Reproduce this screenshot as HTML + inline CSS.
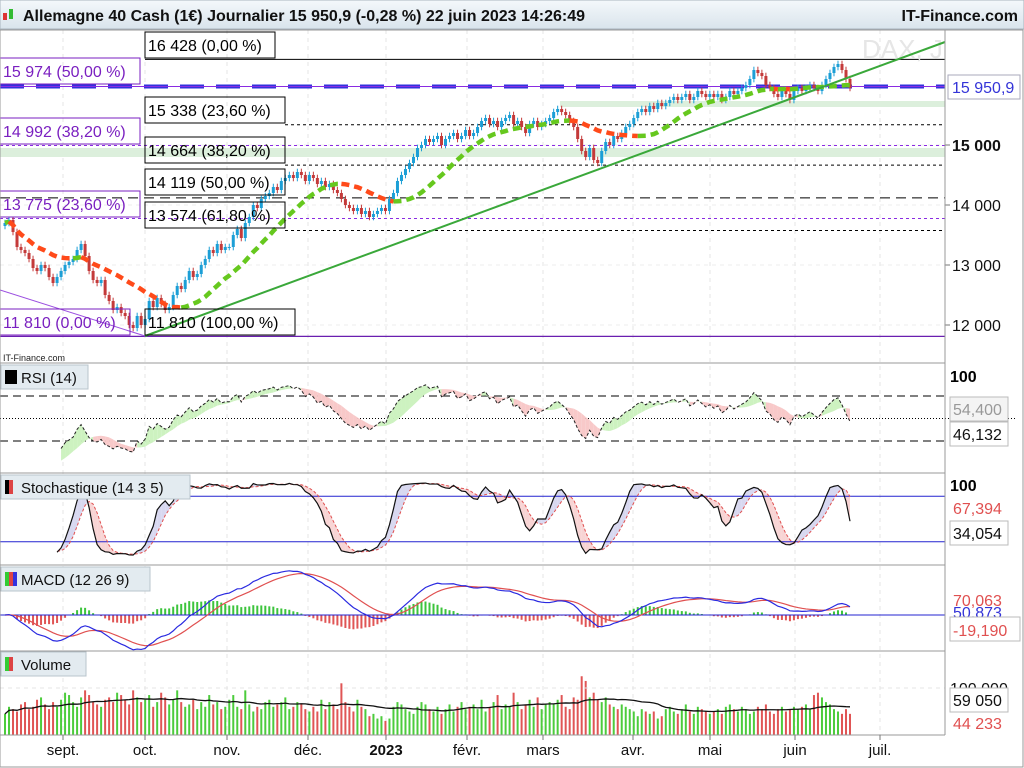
<!DOCTYPE html>
<html><head><meta charset="utf-8"><style>
body{margin:0;background:#fff;font-family:"Liberation Sans",sans-serif}
svg{display:block}
</style></head><body>
<svg id="c" width="1024" height="768" viewBox="0 0 1024 768" xmlns="http://www.w3.org/2000/svg">
<defs><linearGradient id="hg" x1="0" y1="0" x2="0" y2="1"><stop offset="0" stop-color="#f4f8fb"/><stop offset="1" stop-color="#d9e4ec"/></linearGradient></defs>
<rect x="0" y="0" width="1024" height="768" fill="#fff"/>
<g>
<rect x="0" y="0" width="1024" height="29" fill="url(#hg)" stroke="#a9b4bd"/>
<rect x="3" y="13" width="4" height="7" fill="#d33"/><rect x="9" y="9" width="4" height="10" fill="#3b3"/>
<text x="23" y="21" font-size="16" font-weight="bold" fill="#111">Allemagne 40 Cash (1€) Journalier 15 950,9 (-0,28 %) 22 juin 2023 14:26:49</text>
<text x="1018" y="21" font-size="16" font-weight="bold" fill="#111" text-anchor="end">IT-Finance.com</text>
</g>
<g id="grid"></g>
<g id="main"></g>
<g id="ind"></g>
<g id="axes"></g>
</svg>
<script>
const months=["sept.","oct.","nov.","déc.","2023","févr.","mars","avr.","mai","juin","juil."];
const monthX=[63,145,227,308,386,467,543,633,710,795,880];
const closes=[13700,13750,13550,13300,13250,13200,13100,12950,12900,13000,12950,12800,12700,12800,
12900,13000,13050,13100,13250,13350,13150,12900,12750,12700,12750,12500,12400,12250,12300,12200,12150,12000,11950,12150,12000,
12100,12400,12300,12450,12350,12250,12300,12500,12650,12600,12750,12900,12800,12850,13000,13100,13250,13200,13350,13250,13300,
13300,13500,13600,13450,13700,13800,14000,13950,14100,14150,14200,14300,14250,14400,14450,14500,14450,14550,14500,14400,14500,
14450,14350,14400,14300,14350,14250,14200,14100,14000,13950,13900,13950,13850,13900,13800,13850,13900,13950,13900,
14100,14200,14400,14500,14600,14700,14800,14950,15000,15100,15050,15100,15150,15000,15100,15150,15200,15100,15150,15250,15150,
15200,15300,15400,15450,15350,15400,15300,15400,15450,15500,15350,15400,15300,15200,15350,15400,15300,15350,15400,
15450,15550,15600,15550,15500,15400,15300,15100,14900,14800,14950,14750,14700,14900,15050,15000,15150,15100,15200,15300,15350,15450,
15550,15600,15550,15650,15600,15700,15650,15700,15750,15800,15750,15800,15850,15750,15800,15900,15850,15800,15850,
15800,15850,15750,15800,15900,15850,15900,15950,16000,16100,16250,16200,16150,16000,15950,15850,15800,15900,15850,15750,15900,
15950,15900,15950,16000,15950,15900,16000,16100,16200,16300,16350,16250,16100,15950];
const volumes=[45,60,55,50,65,70,55,60,75,80,65,55,70,60,
75,90,85,70,60,80,95,85,70,65,60,75,80,70,90,85,75,65,95,80,70,
75,85,60,70,90,80,65,75,95,70,60,65,75,55,70,60,85,65,70,55,60,
75,85,60,55,95,65,50,60,55,70,75,60,65,70,80,55,60,70,65,55,50,
60,50,75,55,70,65,55,110,70,60,50,75,60,55,40,45,35,40,30,
35,60,70,65,55,50,45,60,70,65,55,50,60,45,55,65,50,60,70,55,60,
65,55,75,50,60,70,85,55,65,60,90,70,55,65,75,60,80,55,65,
70,65,75,85,60,55,80,75,125,115,80,90,75,70,80,65,60,55,65,60,55,50,
40,55,50,45,50,35,40,55,60,50,45,55,65,50,45,60,55,50,45,
50,55,45,60,65,55,50,60,55,45,50,60,55,65,50,45,55,60,50,55,60,
55,60,65,55,85,90,80,70,65,55,50,45,55,45];
const priceTicks=[12000,13000,14000,15000];
const priceTickLabels=["12 000","13 000","14 000","15 000"];

const NS="http://www.w3.org/2000/svg";
function mk(parent,tag,attrs,text){const e=document.createElementNS(NS,tag);for(const k in attrs)e.setAttribute(k,attrs[k]);if(text!==undefined)e.textContent=text;parent.appendChild(e);return e;}
const G=document.getElementById('grid'),M=document.getElementById('main'),I=document.getElementById('ind'),A=document.getElementById('axes');
const N=Math.min(closes.length,volumes.length);
const x=i=>5+i*845/(N-1);
const py=p=>325-(p-12000)*0.06;

monthX.forEach(mx=>{const l=mk(G,'line',{x1:mx,y1:30,x2:mx,y2:735,stroke:'#e4e4e4','stroke-dasharray':'4 4'});

});
priceTicks.forEach((p,k)=>{const l=mk(G,'line',{x1:0,y1:py(p),x2:945,y2:py(p),stroke:'#ececec','stroke-dasharray':'4 4'});


const t=mk(A,'text',{x:952,y:py(p)+6,'font-size':16,'font-weight':p===15000?'bold':'normal',fill:'#111'},priceTickLabels[k]);


mk(A,'line',{x1:945,y1:py(p),x2:950,y2:py(p),stroke:'#777'});});

mk(M,'rect',{x:0,y:148,width:945,height:9,fill:'#dcefdc'});
mk(M,'rect',{x:560,y:101,width:385,height:6,fill:'#dcefdc'});
function hl(y,x1,col,dash,w,name){const l=mk(M,'line',{x1:x1,y1:y,x2:945,y2:y,stroke:col,'stroke-width':w||1,'stroke-dasharray':dash||'none'});

}
hl(py(16428),145,'#000','',1,'fib-16428');
hl(py(15338),285,'#000','3 3',1,'fib-15338');
hl(py(14992),0,'#8a2be2','3 3',1,'fib-14992');
hl(py(14664),285,'#000','3 3',1,'fib-14664');
hl(py(14119),0,'#000','10 6',1,'fib-14119');
hl(py(13775),0,'#8a2be2','3 3',1,'fib-13775');
hl(py(13574),285,'#000','3 3',1,'fib-13574');
hl(py(11810),0,'#6a1fb0','',1.2,'fib-11810');
hl(py(15974),0,'#3232dd','24 12',4,'last-price-line');
hl(py(15974),0,'#8a2be2','',1,'fib-15974');
mk(M,'line',{x1:0,y1:290,x2:145,y2:336,stroke:'#9b4ee0','stroke-width':1});
mk(M,'text',{x:862,y:58,'font-size':26,fill:'#e6e6e6'},'DAX, J');

for(let i=0;i<N;i++){const c=closes[i],o=i?closes[i-1]:13650;const up=c>=o;const col=up?'#1c9fd6':'#c43a3a';
const hi=Math.max(o,c)+55,lo=Math.min(o,c)-55;
mk(M,'line',{x1:x(i),y1:py(hi),x2:x(i),y2:py(lo),stroke:col,'stroke-width':1});
const b=mk(M,'rect',{x:x(i)-1.5,y:py(Math.max(o,c)),width:3,height:Math.max(1,Math.abs(py(o)-py(c))),fill:col});

}

const ma=closes.slice(0,N).map((c,i)=>{const s=Math.max(0,i-19);let t=0;for(let j=s;j<=i;j++)t+=closes[j];return t/(i-s+1);});
let seg=[],segCol=null;
function flush(){if(seg.length>1){const p=mk(M,'polyline',{points:seg.join(' '),fill:'none',stroke:segCol,'stroke-width':4.5,'stroke-dasharray':'8 5'});

}}
for(let i=0;i<N;i++){const col=(i>0&&ma[i]<ma[i-1])?'#ff4a1a':'#66c81e';
if(col!==segCol){const last=seg.length?seg[seg.length-1]:null;flush();seg=last?[last]:[];segCol=col;}
seg.push(x(i)+','+py(ma[i]));}
flush();
const tl=mk(M,'line',{x1:145,y1:336,x2:945,y2:42,stroke:'#3aa83a','stroke-width':2});



function box(xx,y,w,txt,col,name){const g=mk(M,'g',{});
mk(g,'rect',{x:xx,y:y,width:w,height:26,fill:'none',stroke:col});mk(g,'text',{x:xx+3,y:y+19,'font-size':16,fill:col},txt);}
box(145,32,130,'16 428 (0,00 %)','#000','fib-label-16428');
box(0,58,140,'15 974 (50,00 %)','#7a1fc0','fib-label-15974');
box(145,97,140,'15 338 (23,60 %)','#000','fib-label-15338');
box(0,118,140,'14 992 (38,20 %)','#7a1fc0','fib-label-14992');
box(145,137,140,'14 664 (38,20 %)','#000','fib-label-14664');
box(145,169,140,'14 119 (50,00 %)','#000','fib-label-14119');
box(0,191,140,'13 775 (23,60 %)','#7a1fc0','fib-label-13775');
box(145,202,140,'13 574 (61,80 %)','#000','fib-label-13574');
box(0,309,130,'11 810 (0,00 %)','#7a1fc0','fib-label-11810');
box(145,309,150,'11 810 (100,00 %)','#000','fib-label-11810b');
mk(A,'rect',{x:948,y:75,width:72,height:24,fill:'#fff',stroke:'#aab'});
mk(A,'text',{x:952,y:93,'font-size':16,fill:'#3434d8'},'15 950,9');
mk(M,'text',{x:3,y:361,'font-size':9,fill:'#222'},'IT-Finance.com');

[363,473,565,651,735].forEach(y=>mk(A,'line',{x1:0,y1:y,x2:945,y2:y,stroke:'#999'}));
mk(A,'line',{x1:945,y1:30,x2:945,y2:735,stroke:'#999'});
mk(A,'rect',{x:0,y:30,width:1023,height:737,fill:'none',stroke:'#999'});
function title(xx,y,w,txt,cols,name){const g=mk(A,'g',{});
mk(g,'rect',{x:xx,y:y,width:w,height:24,fill:'#e3ebf0',stroke:'#b8c4cc'});
cols.forEach((c,k)=>mk(g,'rect',{x:xx+4+k*4,y:y+5,width:cols.length>1?4:12,height:14,fill:c}));
mk(g,'text',{x:xx+20,y:y+18,'font-size':15,fill:'#111'},txt);}
title(1,365,87,'RSI (14)',['#000'],'rsi-title');
title(1,475,189,'Stochastique (14 3 5)',['#000','#d44'],'stoch-title');
title(1,567,149,'MACD (12 26 9)',['#3c3','#d44','#33d'],'macd-title');
title(1,652,85,'Volume',['#3c3','#d44'],'volume-title');

// RSI
const ry=v=>396+(70-v)*1.125;
const rsi=[];{let ag=0,al=0;for(let i=0;i<N;i++){const d=i?closes[i]-closes[i-1]:0;const g=Math.max(d,0),l=Math.max(-d,0);
if(i<=14){ag+=g/14;al+=l/14;}else{ag=(ag*13+g)/14;al=(al*13+l)/14;}rsi.push(al===0?100:100-100/(1+ag/al));}}
const sma=(arr,n)=>arr.map((v,i)=>{const s=Math.max(0,i-n+1);let t=0;for(let j=s;j<=i;j++)t+=arr[j];return t/(i-s+1);});
const rsiMa=sma(rsi,9);
[70,30].forEach(v=>mk(I,'line',{x1:0,y1:ry(v),x2:945,y2:ry(v),stroke:'#000','stroke-dasharray':'8 5'}));
mk(I,'line',{x1:0,y1:ry(50),x2:1015,y2:ry(50),stroke:'#000','stroke-dasharray':'1 2'});
for(let i=14;i<N-1;i++){const a=rsi[i],b=rsi[i+1];const col=(a>=rsiMa[i])?'#cdf2c0':'#f8c9c9';
mk(I,'polygon',{points:`${x(i)},${ry(a)} ${x(i+1)},${ry(b)} ${x(i+1)},${ry(rsiMa[i+1])} ${x(i)},${ry(rsiMa[i])}`,fill:col});}
{const p=mk(I,'polyline',{points:rsi.slice(14).map((v,k)=>x(k+14)+','+ry(v)).join(' '),fill:'none',stroke:'#222','stroke-width':1,'stroke-dasharray':'3 2'});

}
mk(A,'text',{x:950,y:382,'font-size':16,'font-weight':'bold'},'100');
mk(A,'rect',{x:950,y:397,width:58,height:24,fill:'#f4f4f4',stroke:'#bbb'});mk(A,'text',{x:953,y:415,'font-size':16,fill:'#999'},'54,400');
mk(A,'rect',{x:950,y:422,width:58,height:24,fill:'#fff',stroke:'#bbb'});mk(A,'text',{x:953,y:440,'font-size':16,fill:'#111'},'46,132');

// Stochastic
const sy=v=>481+(100-v)*0.76;
const raw=[];for(let i=0;i<N;i++){const s=Math.max(0,i-13);let hi=-1e9,lo=1e9;for(let j=s;j<=i;j++){hi=Math.max(hi,closes[j]+35);lo=Math.min(lo,closes[j]-35);}raw.push((closes[i]-lo)/(hi-lo)*100);}
const K=sma(raw,3),D=sma(K,5);
for(let i=13;i<N-1;i++){mk(I,'polygon',{points:`${x(i)},${sy(K[i])} ${x(i+1)},${sy(K[i+1])} ${x(i+1)},${sy(D[i+1])} ${x(i)},${sy(D[i])}`,fill:K[i]>=D[i]?'#d8d8f0':'#f8d4d4'});}
[80,20].forEach(v=>mk(I,'line',{x1:0,y1:sy(v),x2:945,y2:sy(v),stroke:'#2323d0'}));
{const p=mk(I,'polyline',{points:D.slice(13).map((v,k)=>x(k+13)+','+sy(v)).join(' '),fill:'none',stroke:'#e05050','stroke-dasharray':'3 2'});

}
{const p=mk(I,'polyline',{points:K.slice(13).map((v,k)=>x(k+13)+','+sy(v)).join(' '),fill:'none',stroke:'#111','stroke-width':1.2});

}
mk(A,'text',{x:950,y:491,'font-size':16,'font-weight':'bold'},'100');
mk(A,'text',{x:953,y:514,'font-size':16,fill:'#e05050'},'67,394');
mk(A,'rect',{x:950,y:521,width:58,height:24,fill:'#fff',stroke:'#bbb'});mk(A,'text',{x:953,y:539,'font-size':16,fill:'#111'},'34,054');

// MACD
const ema=(arr,n)=>{const k=2/(n+1);const o=[];arr.forEach((v,i)=>o.push(i?v*k+o[i-1]*(1-k):v));return o;};
const c=closes.slice(0,N),e12=ema(c,12),e26=ema(c,26);const macd=e12.map((v,i)=>v-e26[i]);const sig=ema(macd,9);
const my=v=>615-v*0.11;
for(let i=0;i<N;i++){const h=(macd[i]-sig[i])*1.2*0.11;const b=mk(I,'rect',{x:x(i)-1,y:h>0?615-h:615,width:2,height:Math.max(0.5,Math.abs(h)),fill:h>0?'#3cc43c':'#e05555'});

}
mk(I,'line',{x1:0,y1:615,x2:945,y2:615,stroke:'#2323d0'});
{const p=mk(I,'polyline',{points:sig.map((v,i)=>x(i)+','+my(v)).join(' '),fill:'none',stroke:'#e05050','stroke-width':1.2});

}
{const p=mk(I,'polyline',{points:macd.map((v,i)=>x(i)+','+my(v)).join(' '),fill:'none',stroke:'#2a2ae0','stroke-width':1.2});

}
mk(A,'text',{x:953,y:606,'font-size':16,fill:'#e05050'},'70,063');
mk(A,'text',{x:953,y:618,'font-size':16,fill:'#3434d8'},'50,873');
mk(A,'rect',{x:950,y:617,width:70,height:24,fill:'#fff',stroke:'#bbb'});mk(A,'text',{x:953,y:636,'font-size':16,fill:'#e05050'},'-19,190');

// Volume
const vy=v=>735-v*0.47;
for(let i=0;i<N;i++){const up=i?closes[i]>=closes[i-1]:true;const b=mk(I,'rect',{x:x(i)-1,y:vy(volumes[i]),width:2,height:volumes[i]*0.47,fill:up?'#4ccc3c':'#e05555'});

}
const vma=sma(volumes.slice(0,N),20);
{const p=mk(I,'polyline',{points:vma.map((v,i)=>x(i)+','+vy(v)).join(' '),fill:'none',stroke:'#111','stroke-width':1.3});

}
mk(I,'line',{x1:0,y1:vy(100),x2:945,y2:vy(100),stroke:'#e4e4e4','stroke-dasharray':'4 4'});
mk(A,'text',{x:950,y:694,'font-size':16,fill:'#111'},'100 000');
mk(A,'rect',{x:950,y:688,width:58,height:24,fill:'#fff',stroke:'#bbb'});mk(A,'text',{x:953,y:706,'font-size':16,fill:'#111'},'59 050');
mk(A,'text',{x:953,y:729,'font-size':16,fill:'#e05050'},'44 233');

monthX.forEach((mx,k)=>{const t=mk(A,'text',{x:mx,y:755,'font-size':15,'text-anchor':'middle','font-weight':months[k]==='2023'?'bold':'normal',fill:'#111'},months[k]);


mk(A,'line',{x1:mx,y1:735,x2:mx,y2:740,stroke:'#777'});});
</script>
</body></html>
